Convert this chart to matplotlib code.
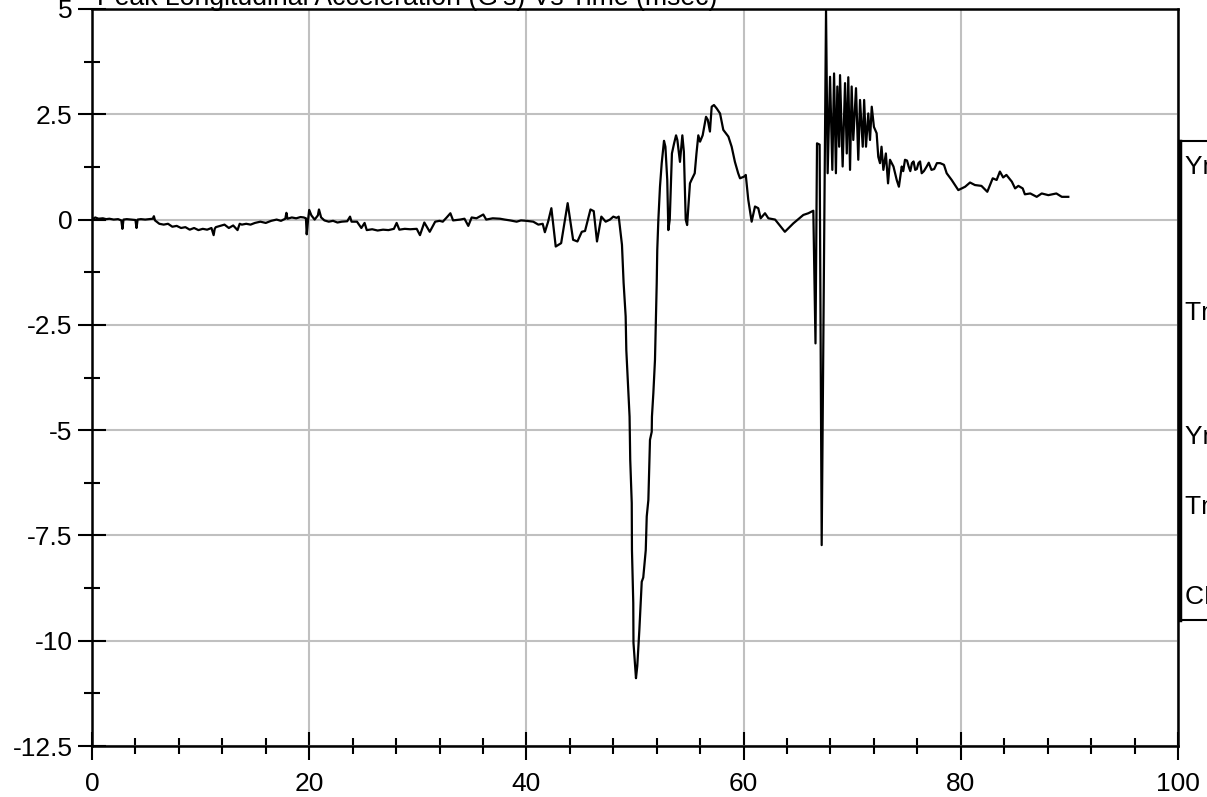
import matplotlib
matplotlib.use("Agg")
import matplotlib.pyplot as plt
from matplotlib.patches import Rectangle
from matplotlib.ticker import MultipleLocator, FuncFormatter

plt.rcParams['font.family'] = ['Liberation Sans', 'DejaVu Sans']
plt.rcParams['axes.unicode_minus'] = False

title = "Peak Longitudinal Acceleration (G's) Vs Time (msec)"

# (time msec, acceleration G's), in three stretches
pre_impact = [
    (0.0, 0.0), (0.3, 0.05), (0.6, 0.02), (1.0, 0.03), (1.3, 0.01), (1.6, 0.02),
    (2.0, 0.0), (2.4, 0.01), (2.7, -0.02), (2.8, -0.22), (2.9, 0.0), (3.2, 0.01),
    (3.6, 0.0), (4.0, -0.01), (4.1, -0.2), (4.2, 0.0), (4.5, 0.01), (4.9, 0.0),
    (5.3, 0.01), (5.6, 0.02), (5.7, 0.08), (5.8, -0.02), (6.2, -0.1), (6.6, -0.12),
    (7.0, -0.1), (7.4, -0.17), (7.8, -0.15), (8.2, -0.2), (8.6, -0.18), (9.0, -0.24),
    (9.4, -0.2), (9.8, -0.25), (10.2, -0.22), (10.6, -0.24), (11.0, -0.2), (11.2, -0.37),
    (11.3, -0.22), (11.4, -0.18), (11.8, -0.15), (12.2, -0.12), (12.6, -0.2), (13.0, -0.14),
    (13.4, -0.25), (13.6, -0.1), (13.8, -0.12), (14.2, -0.1), (14.6, -0.12), (15.0, -0.08),
    (15.5, -0.05), (16.0, -0.08), (16.5, -0.03), (17.0, 0.0), (17.4, -0.03), (17.8, 0.02),
    (17.9, 0.16), (18.0, 0.02), (18.4, 0.05), (18.8, 0.03), (19.2, 0.06), (19.5, 0.05),
    (19.7, 0.03), (19.77, -0.35), (19.9, 0.0), (20.0, 0.23), (20.2, 0.1), (20.5, 0.0),
    (20.8, 0.1), (20.9, 0.24), (21.1, 0.05), (21.4, -0.02), (21.8, -0.05), (22.2, -0.03),
    (22.6, -0.07), (23.0, -0.05), (23.5, -0.04), (23.76, 0.07), (23.9, -0.05), (24.4, -0.05),
    (24.8, -0.2), (25.1, -0.08), (25.3, -0.25), (25.8, -0.23), (26.3, -0.26), (26.8, -0.24),
    (27.3, -0.25), (27.8, -0.22), (28.05, -0.08), (28.3, -0.24), (28.8, -0.22), (29.3, -0.23),
    (29.9, -0.22), (30.2, -0.37), (30.6, -0.07), (31.1, -0.29), (31.6, -0.05), (32.0, -0.03),
    (32.3, -0.05), (32.66, 0.05), (33.0, 0.15), (33.25, -0.02), (33.9, 0.0), (34.3, 0.02),
    (34.65, -0.15), (34.96, 0.05), (35.4, 0.03), (36.03, 0.12), (36.3, 0.0), (36.9, 0.03),
    (37.57, 0.02), (38.0, 0.0), (38.5, -0.02), (39.1, -0.05), (39.5, -0.02), (40.0, -0.03),
    (40.63, -0.05), (41.1, -0.12), (41.5, -0.1), (41.7, -0.3), (42.0, -0.05),
]
first_pulse = [
    (42.3, 0.27), (42.7, -0.64), (43.2, -0.56), (43.8, 0.39), (44.3, -0.48), (44.7, -0.52),
    (45.1, -0.29), (45.4, -0.27), (45.9, 0.24), (46.2, 0.2), (46.5, -0.52), (46.9, 0.07),
    (47.3, -0.05), (47.7, 0.0), (48.0, 0.07), (48.3, 0.04), (48.5, 0.07), (48.8, -0.6),
    (48.95, -1.5), (49.14, -2.3), (49.2, -3.1), (49.5, -4.68), (49.56, -5.7), (49.7, -6.73),
    (49.72, -7.85), (49.84, -9.1), (49.86, -10.05), (50.09, -10.89), (50.21, -10.6),
    (50.4, -9.75), (50.62, -8.6), (50.76, -8.5), (50.99, -7.85), (51.08, -7.05),
    (51.23, -6.66), (51.32, -5.78), (51.38, -5.23), (51.54, -5.04), (51.56, -4.68),
    (51.69, -4.12), (51.84, -3.33), (51.93, -2.3), (52.0, -1.51), (52.05, -0.72),
    (52.15, -0.01), (52.3, 0.78), (52.46, 1.34), (52.67, 1.87), (52.8, 1.73), (52.97, 0.94),
    (53.07, -0.25), (53.2, 0.0), (53.4, 1.57), (53.6, 1.81), (53.78, 2.0), (53.9, 1.89),
    (54.14, 1.37), (54.36, 2.0), (54.5, 1.61), (54.67, 0.0), (54.8, -0.13), (55.06, 0.86),
    (55.2, 0.94), (55.5, 1.1), (55.66, 1.57), (55.83, 2.0), (55.99, 1.85), (56.23, 2.0),
    (56.54, 2.44), (56.7, 2.37), (56.9, 2.09), (57.06, 2.68), (57.27, 2.72), (57.52, 2.64),
    (57.83, 2.52), (58.13, 2.13), (58.6, 1.97), (58.9, 1.73), (59.2, 1.37), (59.5, 1.1),
    (59.67, 0.98), (60.04, 1.02), (60.2, 1.06), (60.43, 0.47), (60.74, -0.05), (61.05, 0.31),
    (61.35, 0.27), (61.57, 0.03), (61.97, 0.15), (62.28, 0.03), (62.9, 0.0), (63.3, -0.13),
]
second_pulse = [
    (63.8, -0.29), (64.27, -0.17), (64.58, -0.09), (65.0, 0.0), (65.5, 0.11), (65.96, 0.15),
    (66.42, 0.21), (66.62, -2.94), (66.76, 1.81), (67.0, 1.78), (67.19, -7.73), (67.59, 4.98),
    (67.74, 1.1), (67.96, 3.39), (68.17, 1.18), (68.33, 3.47), (68.5, 1.1), (68.63, 3.16),
    (68.8, 1.73), (68.88, 3.43), (69.12, 1.26), (69.34, 3.24), (69.5, 1.57), (69.64, 3.38),
    (69.8, 1.18), (69.95, 3.16), (70.1, 1.89), (70.35, 3.12), (70.56, 1.42), (70.72, 2.84),
    (70.97, 1.73), (71.1, 2.84), (71.27, 1.73), (71.48, 2.52), (71.64, 1.89), (71.8, 2.68),
    (72.0, 2.2), (72.25, 2.05), (72.4, 1.49), (72.56, 1.34), (72.7, 1.73), (72.87, 1.18),
    (73.1, 1.57), (73.3, 0.86), (73.48, 1.42), (73.8, 1.26), (73.95, 1.1), (74.1, 0.94),
    (74.3, 0.78), (74.56, 1.26), (74.7, 1.15), (74.86, 1.42), (75.05, 1.4), (75.2, 1.26),
    (75.35, 1.15), (75.5, 1.34), (75.65, 1.38), (75.8, 1.18), (75.95, 1.2), (76.1, 1.34),
    (76.25, 1.38), (76.4, 1.1), (76.6, 1.15), (76.86, 1.26), (77.05, 1.35), (77.3, 1.18),
    (77.55, 1.2), (77.8, 1.34), (78.1, 1.34), (78.45, 1.3), (78.7, 1.1), (79.16, 0.94),
    (79.47, 0.82), (79.77, 0.7), (80.08, 0.74), (80.4, 0.78), (80.85, 0.88), (81.3, 0.82),
    (81.9, 0.8), (82.44, 0.66), (82.94, 0.98), (83.3, 0.94), (83.6, 1.14), (83.9, 1.0),
    (84.2, 1.06), (84.7, 0.9), (85.0, 0.74), (85.3, 0.8), (85.7, 0.74), (85.9, 0.6),
    (86.4, 0.62), (86.99, 0.54), (87.45, 0.62), (88.06, 0.58), (88.8, 0.62), (89.3, 0.54),
    (89.9, 0.54),
]

trace = pre_impact + first_pulse + second_pulse
time_ms = [p[0] for p in trace]
accel_g = [p[1] for p in trace]

box_labels = ["Ymin = -10.86", "Tmin = 50.10", "Ymax = 4.98", "Tmax = 67.59", "CFC 180"]
box_label_y = [167, 313, 437, 507, 597]

fig = plt.figure(figsize=(12.07, 7.97), dpi=100)
ax = fig.add_axes([92/1207, 51/797, 1086/1207, 737/797])

ax.plot(time_ms, accel_g, color='black', lw=1.6)

ax.set_xlim(0, 100)
ax.set_ylim(-12.5, 5)
ax.xaxis.set_major_locator(MultipleLocator(20))
ax.xaxis.set_minor_locator(MultipleLocator(4))
ax.yaxis.set_major_locator(MultipleLocator(2.5))
ax.yaxis.set_minor_locator(MultipleLocator(1.25))
ax.yaxis.set_major_formatter(FuncFormatter(lambda v, p: '%g' % v))
ax.tick_params(which='major', direction='inout', length=20, width=1.5, labelsize=19, pad=4)
ax.tick_params(axis='x', which='major', pad=9)
ax.tick_params(which='minor', direction='inout', length=11, width=1.5)
ax.grid(True, which='major', color='#c0c0c0', lw=1.5)
ax.set_axisbelow(True)
for s in ax.spines.values():
    s.set_linewidth(1.8)

fig.text(97/1207, 1 - 5/797, title, fontsize=19.2, va='baseline', ha='left')

# info box on the right, mostly cut off by the figure edge
fig.add_artist(Rectangle((1179/1207, 1 - 620/797), 0.2, (620 - 141)/797,
                         transform=fig.transFigure, fill=False, lw=1.5, color='black'))
fig.add_artist(plt.Line2D([1180/1207, 1180/1207], [1 - 620/797, 1 - 141/797],
                          transform=fig.transFigure, color='black', lw=2.5))
for lab, yy in zip(box_labels, box_label_y):
    fig.text(1185/1207, 1 - yy/797, lab, fontsize=19, va='center', ha='left')

fig.savefig("out.png", dpi=100)
